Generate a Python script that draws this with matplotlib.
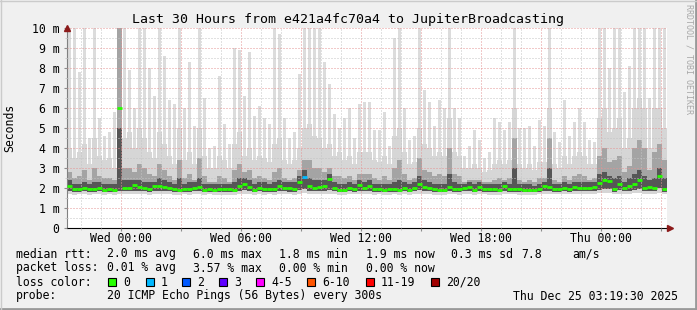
import numpy as np
import pandas as pd
import matplotlib
matplotlib.use('Agg')
import matplotlib.pyplot as plt
import matplotlib.dates as mdates
from matplotlib.patches import Rectangle
from matplotlib.lines import Line2D
from matplotlib.ticker import MultipleLocator, FuncFormatter

plt.rcParams['font.family'] = ['DejaVu Sans Mono']

W, H = 697, 310

# 30 hours in 15 minute bins, ending Thu Dec 25 03:19:30 2025
start = pd.Timestamp('2025-12-23 21:19:30')
end = pd.Timestamp('2025-12-25 03:19:30')

# median rtt per bin (ms)
median_ms = [
    2.1, 1.93, 1.97, 2.02, 1.97, 1.97, 2.02, 1.9, 1.97, 1.92,
    6.0, 2.02, 2.0, 2.15, 2.05, 2.0, 1.95, 2.1, 2.1, 2.05,
    2.0, 1.93, 1.9, 1.93, 1.93, 2.0, 2.05, 1.88, 1.97, 1.92,
    1.93, 1.93, 1.93, 1.9, 2.1, 2.2, 2.05, 1.88, 2.0, 1.97,
    1.97, 1.97, 2.1, 2.0, 2.0, 1.97, 2.3, 2.55, 2.1, 2.02,
    2.05, 2.1, 2.45, 2.0, 1.9, 1.92, 2.0, 1.97, 2.15, 2.0,
    2.1, 1.95, 1.97, 1.92, 1.95, 1.97, 1.9, 2.0, 1.92, 2.0,
    2.2, 2.07, 2.02, 1.93, 1.88, 1.9, 2.07, 1.97, 1.95, 2.0,
    2.05, 1.9, 2.05, 1.97, 1.93, 1.93, 1.92, 2.1, 1.97, 1.95,
    1.93, 1.92, 1.9, 1.88, 1.97, 2.1, 2.05, 1.97, 1.97, 2.0,
    1.95, 2.07, 2.0, 2.02, 2.02, 2.07, 2.27, 2.4, 2.35, 1.97,
    2.2, 2.0, 2.1, 2.2, 2.4, 2.0, 2.07, 2.0, 2.6, 1.95,
]

# lost pings (of 20) per bin
lost = [0] * 120
lost[47] = 1

# smoke: fastest ping, inner low edge, and upper edges of each band (ms)
smoke_min = [
    1.70, 1.66, 1.68, 1.70, 1.67, 1.69, 1.71, 1.66, 1.68, 1.67,
    1.72, 1.70, 1.69, 1.71, 1.70, 1.68, 1.67, 1.70, 1.71, 1.69,
    1.68, 1.66, 1.67, 1.68, 1.66, 1.69, 1.70, 1.65, 1.68, 1.67,
    1.66, 1.67, 1.66, 1.65, 1.70, 1.72, 1.69, 1.66, 1.68, 1.67,
    1.68, 1.67, 1.70, 1.69, 1.68, 1.67, 1.72, 1.74, 1.70, 1.69,
    1.70, 1.71, 1.72, 1.69, 1.66, 1.67, 1.69, 1.68, 1.70, 1.69,
    1.71, 1.67, 1.68, 1.66, 1.67, 1.68, 1.66, 1.69, 1.67, 1.69,
    1.72, 1.70, 1.69, 1.66, 1.65, 1.66, 1.70, 1.68, 1.67, 1.69,
    1.70, 1.66, 1.70, 1.68, 1.67, 1.67, 1.66, 1.71, 1.68, 1.68,
    1.67, 1.66, 1.66, 1.65, 1.68, 1.70, 1.70, 1.68, 1.68, 1.69,
    1.68, 1.70, 1.69, 1.70, 1.70, 1.70, 1.74, 1.76, 1.74, 1.69,
    1.72, 1.70, 1.72, 1.73, 1.75, 1.70, 1.71, 1.70, 1.76, 1.68,
]
smoke_low = [
    1.84, 1.80, 1.82, 1.84, 1.81, 1.82, 1.85, 1.79, 1.82, 1.80,
    1.86, 1.84, 1.83, 1.86, 1.84, 1.83, 1.81, 1.85, 1.86, 1.84,
    1.83, 1.80, 1.79, 1.81, 1.80, 1.83, 1.85, 1.78, 1.82, 1.80,
    1.80, 1.81, 1.80, 1.79, 1.85, 1.88, 1.84, 1.78, 1.83, 1.81,
    1.82, 1.81, 1.85, 1.83, 1.82, 1.81, 1.90, 1.95, 1.85, 1.83,
    1.84, 1.86, 1.92, 1.83, 1.79, 1.80, 1.83, 1.82, 1.86, 1.83,
    1.86, 1.81, 1.82, 1.80, 1.81, 1.82, 1.79, 1.83, 1.80, 1.83,
    1.88, 1.85, 1.84, 1.80, 1.78, 1.79, 1.85, 1.82, 1.81, 1.83,
    1.84, 1.79, 1.84, 1.82, 1.81, 1.81, 1.80, 1.86, 1.82, 1.81,
    1.81, 1.80, 1.79, 1.78, 1.82, 1.86, 1.85, 1.82, 1.82, 1.83,
    1.81, 1.85, 1.83, 1.84, 1.84, 1.85, 1.92, 1.96, 1.94, 1.82,
    1.90, 1.84, 1.87, 1.90, 1.95, 1.84, 1.86, 1.84, 1.98, 1.81,
]
smoke_q1 = [
    2.4, 2.2, 2.2, 2.3, 2.2, 2.3, 2.3, 2.2, 2.2, 2.2,
    5.0, 2.4, 2.4, 2.4, 2.4, 2.3, 2.3, 2.3, 2.5, 2.4,
    2.3, 2.2, 2.5, 2.2, 2.3, 2.3, 2.5, 2.2, 2.2, 2.2,
    2.2, 2.2, 2.2, 2.3, 2.5, 2.5, 2.4, 2.2, 2.3, 2.3,
    2.2, 2.3, 2.4, 2.3, 2.3, 2.3, 2.6, 2.9, 2.5, 2.4,
    2.4, 2.4, 2.7, 2.3, 2.2, 2.2, 2.3, 2.2, 2.4, 2.3,
    2.4, 2.2, 2.2, 2.2, 2.2, 2.3, 2.4, 2.3, 2.2, 2.3,
    2.6, 2.4, 2.3, 2.2, 2.2, 2.2, 2.7, 2.3, 2.2, 2.2,
    2.3, 2.2, 2.3, 2.2, 2.2, 2.2, 2.2, 2.3, 2.2, 3.0,
    2.2, 2.2, 2.2, 2.1, 2.2, 2.3, 3.0, 2.2, 2.2, 2.3,
    2.2, 2.3, 2.3, 2.3, 2.3, 2.3, 2.7, 2.8, 2.6, 2.5,
    2.6, 2.3, 2.5, 2.7, 2.9, 2.6, 2.4, 2.5, 3.0, 2.5,
]
smoke_q2 = [
    2.8, 2.5, 2.6, 2.9, 2.4, 3.0, 2.6, 2.5, 2.5, 2.4,
    10, 3.0, 3.0, 2.8, 3.2, 3.0, 2.7, 2.6, 3.2, 2.9,
    2.6, 2.4, 3.4, 2.5, 2.7, 2.4, 3.5, 2.6, 2.3, 2.3,
    2.6, 2.5, 2.3, 2.9, 3.2, 2.8, 2.9, 2.5, 2.6, 2.5,
    2.4, 2.8, 3.0, 2.5, 2.4, 2.5, 2.9, 3.4, 3.4, 3.0,
    3.0, 2.8, 3.0, 2.6, 2.6, 2.5, 2.6, 2.4, 2.7, 2.7,
    2.7, 2.5, 2.4, 2.6, 2.4, 3.0, 3.4, 2.7, 2.4, 2.5,
    3.5, 2.9, 2.8, 2.6, 2.7, 2.6, 4.0, 2.7, 2.6, 2.3,
    2.4, 2.4, 2.4, 2.3, 2.3, 2.4, 2.5, 2.4, 2.5, 4.5,
    2.4, 2.3, 2.4, 2.3, 2.5, 2.5, 4.5, 2.4, 2.3, 2.6,
    2.4, 2.6, 2.7, 2.6, 2.4, 2.5, 3.6, 4.0, 3.3, 3.4,
    3.6, 2.8, 3.1, 4.0, 4.4, 4.0, 2.9, 3.8, 4.2, 3.4,
]
smoke_q3 = [
    4.0, 3.5, 3.8, 4.2, 3.2, 4.5, 3.6, 3.4, 3.5, 3.0,
    10, 4.5, 4.8, 4.0, 5.0, 4.5, 3.8, 3.5, 4.8, 4.2,
    3.6, 3.2, 5.0, 3.4, 3.8, 3.2, 5.0, 3.6, 3.0, 3.0,
    3.6, 3.4, 3.0, 4.2, 4.8, 3.6, 4.0, 3.4, 3.6, 3.5,
    3.3, 4.2, 4.5, 3.4, 3.2, 3.4, 4.0, 5.0, 5.2, 4.6,
    4.5, 4.0, 4.2, 3.6, 3.8, 3.4, 3.6, 3.2, 3.8, 3.8,
    3.8, 3.4, 3.3, 3.6, 3.2, 4.6, 5.0, 3.8, 3.2, 3.3,
    5.0, 4.2, 4.0, 3.6, 3.8, 3.6, 5.5, 3.8, 3.6, 3.0,
    3.0, 3.2, 3.0, 2.8, 2.9, 3.2, 3.4, 3.2, 3.4, 6.0,
    3.2, 3.0, 3.2, 2.9, 3.3, 3.3, 6.0, 3.2, 3.0, 3.6,
    3.2, 3.6, 3.8, 3.6, 3.2, 3.2, 5.5, 6.0, 4.8, 5.0,
    5.5, 4.0, 4.5, 6.0, 6.5, 6.0, 4.0, 6.0, 6.0, 5.0,
]
smoke_max = [
    10, 10, 7.8, 10, 4.5, 10, 5.5, 4.6, 4.8, 5.8,
    10, 10, 7.9, 6.0, 10, 10, 8.0, 6.6, 10, 8.6,
    6.4, 6.2, 10, 6.0, 8.3, 5.1, 10, 6.5, 4.0, 4.1,
    7.6, 5.2, 4.2, 9.0, 8.9, 6.6, 8.8, 5.6, 6.1, 5.5,
    5.2, 10, 9.7, 5.5, 4.5, 4.8, 7.7, 10, 10, 10,
    10, 8.3, 7.2, 5.7, 5.0, 5.5, 6.0, 4.5, 6.2, 6.3,
    6.3, 4.9, 4.9, 5.8, 4.1, 9.5, 10, 6.0, 4.4, 4.6,
    10, 6.9, 6.3, 5.1, 6.4, 6.0, 10, 6.0, 5.5, 3.6,
    4.1, 4.9, 4.4, 3.5, 3.8, 5.5, 5.3, 4.9, 5.3, 10,
    5.0, 5.0, 5.1, 4.1, 5.4, 5.1, 10, 4.8, 4.3, 6.4,
    4.6, 5.3, 6.0, 5.3, 4.4, 4.3, 10, 10, 8.0, 10,
    10, 6.8, 8.1, 10, 10, 10, 6.5, 10, 10, 10,
]

loss_labels = ['0', '1', '2', '3', '4-5', '6-10', '11-19', '20/20']
loss_colors = ['#26ff00', '#00b8ff', '#0059ff', '#5e00ff',
               '#ff00ff', '#ff5500', '#ff0000', '#a00000']


def loss_color(n):
    if n <= 3:
        return loss_colors[n]
    if n <= 5:
        return loss_colors[4]
    if n <= 10:
        return loss_colors[5]
    if n <= 19:
        return loss_colors[6]
    return loss_colors[7]


def fx(x):
    return x / W


def fy(y):
    return 1 - y / H


fig = plt.figure(figsize=(W / 100, H / 100), dpi=100, facecolor='#f0f0f0')
ax = fig.add_axes([fx(67), fy(228), 600 / W, 200 / H])
ax.set_facecolor('white')

n = len(median_ms)
edges = mdates.date2num(pd.date_range(start, periods=n + 1, freq='15min'))
bw = edges[1] - edges[0]


def ext(a):
    return np.append(a, a[-1])


# slowest ping of each bin drawn as a spike
ax.bar(edges[:-1] + bw * 0.2, np.array(smoke_max) - np.array(smoke_min),
       bottom=smoke_min, width=bw * 0.6, align='edge', color='#dcdcdc',
       linewidth=0, zorder=1)

# smoke bands, outer (light) to inner (dark)
bands = [
    (smoke_min, smoke_q3, '#d6d6d6'),
    (smoke_low, smoke_q2, '#a4a4a4'),
    (smoke_low, smoke_q1, '#565656'),
]
for lo, hi, c in bands:
    ax.fill_between(edges, ext(lo), ext(hi), step='post', color=c,
                    linewidth=0, zorder=1)

# median coloured by loss
for i in range(n):
    ax.hlines(median_ms[i], edges[i], edges[i + 1],
              colors=loss_color(lost[i]), linewidth=2, zorder=4)

ax.set_xlim(mdates.date2num(start), mdates.date2num(end))
ax.set_ylim(0, 10)

# grid
ax.xaxis.set_major_locator(mdates.HourLocator(byhour=range(0, 24, 3)))
ax.xaxis.set_minor_locator(mdates.HourLocator())


def xlabel(v, pos):
    d = mdates.num2date(v)
    if d.hour % 6 == 0:
        return d.strftime('%a %H:%M')
    return ''


ax.xaxis.set_major_formatter(FuncFormatter(xlabel))
ax.yaxis.set_major_locator(MultipleLocator(1))
ax.yaxis.set_minor_locator(MultipleLocator(0.5))
ax.yaxis.set_major_formatter(FuncFormatter(
    lambda v, p: '0' if v == 0 else '%d m' % v))

ax.set_axisbelow(False)
ax.grid(which='major', color='#e49494', linestyle=(0, (1, 2)), linewidth=0.72)
ax.grid(which='minor', color='#c4c4c4', linestyle=(0, (1, 2)), linewidth=0.72)

ax.tick_params(which='both', direction='out', labelsize=8.3, colors='#000000')
ax.tick_params(axis='y', which='major', length=2.2, pad=3.2, color='#8c8c8c')
ax.tick_params(axis='y', which='minor', length=1.5, color='#c4c4c4')
ax.tick_params(axis='x', which='major', length=2.2, pad=1.0, color='#8c8c8c')
ax.tick_params(axis='x', which='minor', length=1.5, color='#c4c4c4')

for s in ['top', 'right']:
    ax.spines[s].set_visible(False)
ax.spines['left'].set_color('#808080')
ax.spines['bottom'].set_color('#000000')

# axis arrows
ax.plot([0], [1.0], marker='^', markersize=5, color='#8c1a1a',
        transform=ax.transAxes, clip_on=False, zorder=5)
ax.plot([1.005], [0], marker='>', markersize=5, color='#8c1a1a',
        transform=ax.transAxes, clip_on=False, zorder=5)

# titles
fig.text(0.5, fy(19), 'Last 30 Hours from e421a4fc70a4 to JupiterBroadcasting',
         ha='center', va='center', fontsize=9.5)
fig.text(fx(10), fy(128), 'Seconds', rotation=90, ha='center', va='center',
         fontsize=8.3)
fig.text(fx(689), fy(59), 'RRDTOOL / TOBI OETIKER', rotation=270,
         ha='center', va='center', fontsize=6, color='#a8a8a8')

# legend
fs = 8.3
rows = [
    (254, [(16, 'median rtt:'), (107, '2.0 ms avg'), (193, '6.0 ms max'),
           (279, '1.8 ms min'), (366, '1.9 ms now'), (451, '0.3 ms sd'),
           (521, '7.8'), (572, 'am/s')]),
    (268, [(16, 'packet loss:'), (107, '0.01 % avg'), (193, '3.57 % max'),
           (279, '0.00 % min'), (366, '0.00 % now')]),
    (282, [(16, 'loss color:')]),
    (296, [(16, 'probe:'), (107, '20 ICMP Echo Pings (56 Bytes) every 300s'),
           (513, 'Thu Dec 25 03:19:30 2025')]),
]
for y, items in rows:
    for x, s in items:
        fig.text(fx(x), fy(y), s, ha='left', va='center', fontsize=fs)

box_x = [108, 146, 182, 219, 256, 307, 366, 431]
for bx, lab, c in zip(box_x, loss_labels, loss_colors):
    fig.add_artist(Rectangle((fx(bx), fy(286)), 8 / W, 8 / H,
                             transform=fig.transFigure, facecolor=c,
                             edgecolor='black', linewidth=0.8))
    fig.text(fx(bx + 15), fy(282), lab, ha='left', va='center', fontsize=fs)

# frame shading
fig.add_artist(Line2D([0, 1], [fy(309), fy(309)], transform=fig.transFigure,
                      color='#999999', linewidth=2))
fig.add_artist(Line2D([fx(696), fx(696)], [0, 1], transform=fig.transFigure,
                      color='#999999', linewidth=2))
fig.add_artist(Line2D([0, 1], [fy(0.5), fy(0.5)], transform=fig.transFigure,
                      color='#cbcbcb', linewidth=1))
fig.add_artist(Line2D([fx(0.5), fx(0.5)], [0, 1], transform=fig.transFigure,
                      color='#cbcbcb', linewidth=1))

fig.savefig('out.png', dpi=100, facecolor=fig.get_facecolor())
